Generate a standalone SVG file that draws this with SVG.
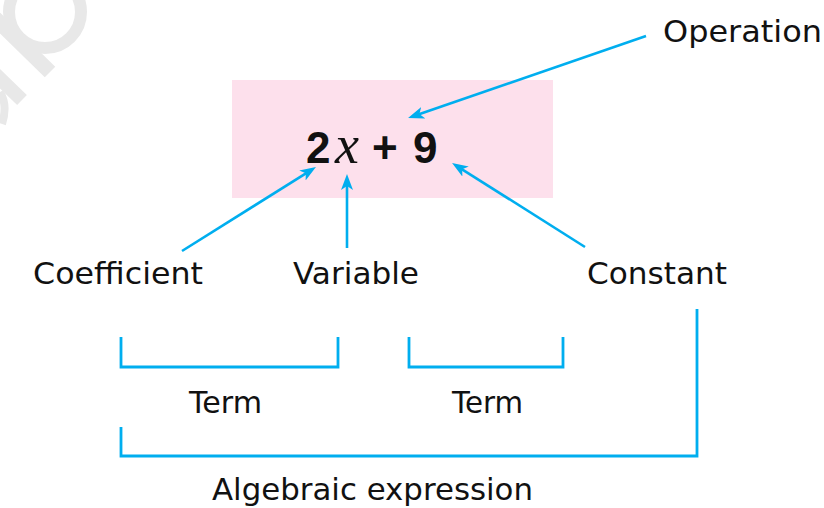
<svg xmlns="http://www.w3.org/2000/svg" width="824" height="508" viewBox="0 0 824 508">
  <style>
    .lbl { font-family: "DejaVu Sans", "Liberation Sans", sans-serif; font-size: 31px; fill: #111; }
    .conn { stroke: #00aeef; stroke-width: 2.6; fill: none; }
    .brk { stroke: #00aeef; stroke-width: 2.8; fill: none; }
    .wm { fill: none; stroke: #e8e8e8; }
  </style>
  <defs>
    <marker id="arrow" markerUnits="userSpaceOnUse" markerWidth="17" markerHeight="13" refX="6" refY="6" orient="auto">
      <path d="M0,0 L16,6 L0,12 L4,6 Z" fill="#00aeef"/>
    </marker>
  </defs>
  <rect width="824" height="508" fill="#ffffff"/>

  <g id="watermark">
    <circle class="wm" cx="45" cy="12" r="36" stroke-width="12"/>
    <path class="wm" d="M-5,18 L50,72" stroke-width="15"/>
    <path class="wm" d="M-5,74 L22,100" stroke-width="14"/>
    <path class="wm" d="M0,92 Q8,105 2,124" stroke-width="8"/>
  </g>

  <g id="expression">
    <rect x="232" y="80" width="321" height="118" fill="#fde0ec"/>
    <text x="306" y="163" font-family="'Liberation Sans', Arial, sans-serif" font-weight="bold" font-size="44" fill="#111">2</text>
    <text x="335" y="163" font-family="'Liberation Serif', 'Times New Roman', serif" font-style="italic" font-size="54" fill="#111">x</text>
    <text x="372" y="163" font-family="'Liberation Sans', Arial, sans-serif" font-weight="bold" font-size="44" fill="#111">+</text>
    <text x="413" y="163" font-family="'Liberation Sans', Arial, sans-serif" font-weight="bold" font-size="44" fill="#111">9</text>
  </g>

  <g id="operation"><text class="lbl" x="663" y="42" textLength="159" lengthAdjust="spacingAndGlyphs">Operation</text></g>
  <g id="coefficient"><text class="lbl" x="33" y="284" textLength="170" lengthAdjust="spacingAndGlyphs">Coefficient</text></g>
  <g id="variable"><text class="lbl" x="293" y="284" textLength="126" lengthAdjust="spacingAndGlyphs">Variable</text></g>
  <g id="constant"><text class="lbl" x="587" y="284" textLength="140" lengthAdjust="spacingAndGlyphs">Constant</text></g>
  <g id="term1"><text class="lbl" x="189" y="413" textLength="73" lengthAdjust="spacingAndGlyphs">Term</text></g>
  <g id="term2"><text class="lbl" x="452" y="413" textLength="71" lengthAdjust="spacingAndGlyphs">Term</text></g>
  <g id="algebraic"><text class="lbl" x="212" y="500" textLength="321" lengthAdjust="spacingAndGlyphs">Algebraic expression</text></g>

  <g id="connectors">
    <line class="conn" x1="646" y1="36" x2="417.5" y2="114.7" marker-end="url(#arrow)"/>
    <line class="conn" x1="182" y1="251" x2="307.5" y2="172.3" marker-end="url(#arrow)"/>
    <line class="conn" x1="347" y1="248" x2="347" y2="184" marker-end="url(#arrow)"/>
    <line class="conn" x1="585" y1="247" x2="460.5" y2="168.3" marker-end="url(#arrow)"/>
    <polyline class="brk" points="121,337 121,367 338,367 338,337"/>
    <polyline class="brk" points="409,337 409,367 563,367 563,337"/>
    <polyline class="brk" points="121,427 121,456 697,456 697,309"/>
  </g>
</svg>
